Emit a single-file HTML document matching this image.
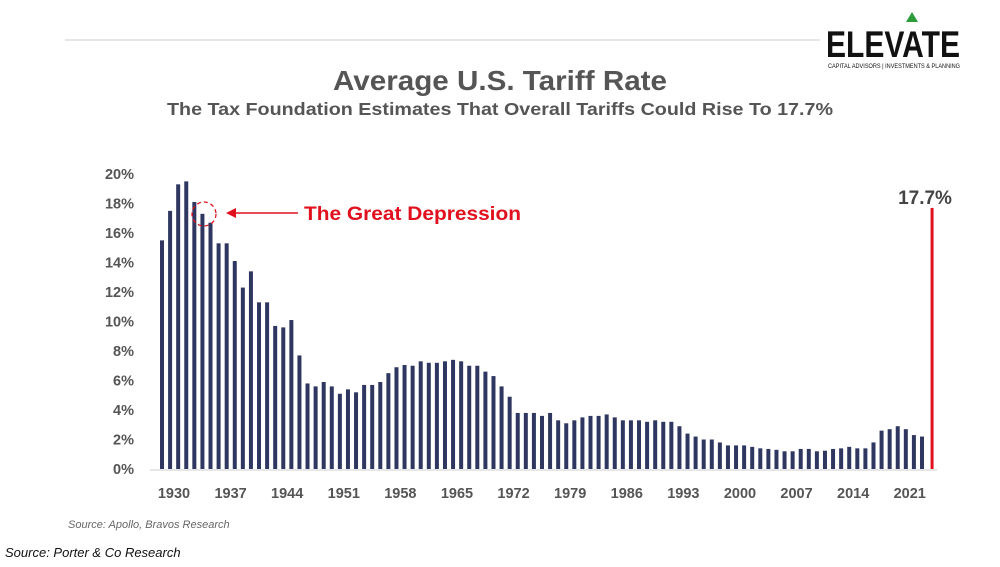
<!DOCTYPE html>
<html><head><meta charset="utf-8"><style>
body{margin:0;width:1000px;height:562px;background:#fff;overflow:hidden;font-family:"Liberation Sans",sans-serif;}
</style></head><body>
<svg width="1000" height="562" xmlns="http://www.w3.org/2000/svg">
<line x1="65" y1="40" x2="820" y2="40" stroke="#ccc" stroke-width="1"/>
<g>
<text x="826" y="57" font-size="37" font-weight="bold" fill="#111" textLength="134" lengthAdjust="spacingAndGlyphs">ELEVATE</text>
<polygon points="906,22 912,12 918,22" fill="#2e9b3a"/>
<text x="828" y="68" font-size="6.5" fill="#111" textLength="132" lengthAdjust="spacingAndGlyphs">CAPITAL ADVISORS | INVESTMENTS &amp; PLANNING</text>
</g>
<text x="333" y="90" font-size="28" font-weight="bold" fill="#555" textLength="334" lengthAdjust="spacingAndGlyphs">Average U.S. Tariff Rate</text>
<text x="167" y="115" font-size="17.5" font-weight="bold" fill="#555" textLength="666" lengthAdjust="spacingAndGlyphs">The Tax Foundation Estimates That Overall Tariffs Could Rise To 17.7%</text>
<g id="yaxis"></g><g id="xaxis"></g><g id="bars"></g>
<line x1="150" y1="470" x2="937" y2="470" stroke="#ccc"/>
<g>
<circle cx="204" cy="214" r="12" fill="none" stroke="#e0101e" stroke-width="1.3" stroke-dasharray="4,3"/>
<line x1="298" y1="213" x2="232" y2="213" stroke="#e0101e" stroke-width="1.6"/>
<polygon points="226,213 236,208 236,218" fill="#e0101e"/>
<text x="304" y="220" font-size="19" font-weight="bold" fill="#e0101e" textLength="217" lengthAdjust="spacingAndGlyphs">The Great Depression</text>
</g>
<text x="925" y="204" text-anchor="middle" font-size="19" font-weight="bold" fill="#444">17.7%</text>
<text x="68" y="528" font-size="11" font-style="italic" fill="#666">Source: Apollo, Bravos Research</text>
<text x="5" y="557" font-size="13" font-style="italic" fill="#111">Source: Porter &amp; Co Research</text>
</svg>
<script>
const years=[];for(let y=1930;y<=2024;y++)years.push(y);
const rates=[15.5,17.5,19.3,19.5,18.1,17.3,16.7,15.3,15.3,14.1,12.3,13.4,11.3,11.3,9.7,9.6,10.1,7.7,5.8,5.6,5.9,5.6,5.1,5.4,5.2,5.7,5.7,5.9,6.5,6.9,7.05,7.0,7.3,7.2,7.2,7.3,7.4,7.3,7.0,7.0,6.6,6.3,
5.6,4.9,3.8,3.8,3.8,3.6,3.8,3.3,3.1,3.3,3.5,3.6,3.6,3.7,3.5,3.3,3.3,3.3,3.2,3.3,3.2,3.2,2.9,2.4,2.2,2.0,2.0,1.8,1.6,1.6,1.6,1.5,1.4,1.36,1.3,1.2,1.2,1.36,1.36,1.2,1.24,1.36,1.4,1.5,1.4,1.4,1.8,2.6,2.7,2.9,2.7,2.3,2.2];
const projYear=[2025];const projRate=[17.7];
const yTicks=[0,2,4,6,8,10,12,14,16,18,20];
const xTicks=[1930,1937,1944,1951,1958,1965,1972,1979,1986,1993,2000,2007,2014,2021];
const NS="http://www.w3.org/2000/svg";
const yS=v=>469-v*14.75;
const xS=yr=>162+(yr-1930)*8.085;
function mk(t,a,p){const e=document.createElementNS(NS,t);for(const k in a)e.setAttribute(k,a[k]);document.getElementById(p).appendChild(e);return e;}
yTicks.forEach(v=>{const t=mk('text',{x:134,y:yS(v)+5,'text-anchor':'end','font-size':14.5,'font-weight':'bold',fill:'#555'},'yaxis');t.textContent=v+'%';

});
xTicks.forEach(yr=>{const t=mk('text',{x:xS(yr)+12,y:498,'text-anchor':'middle','font-size':14.5,'font-weight':'bold',fill:'#555'},'xaxis');t.textContent=yr;

});
years.forEach((yr,i)=>{const v=rates[i];const r=mk('rect',{x:xS(yr)-2,y:yS(v),width:4,height:469-yS(v),fill:'#2f3760'},'bars');

});
projYear.forEach((yr,i)=>{const v=projRate[i];const r=mk('rect',{x:xS(yr)+0.5,y:yS(v),width:3,height:469-yS(v),fill:'#e0101e'},'bars');

});
</script>
</body></html>
